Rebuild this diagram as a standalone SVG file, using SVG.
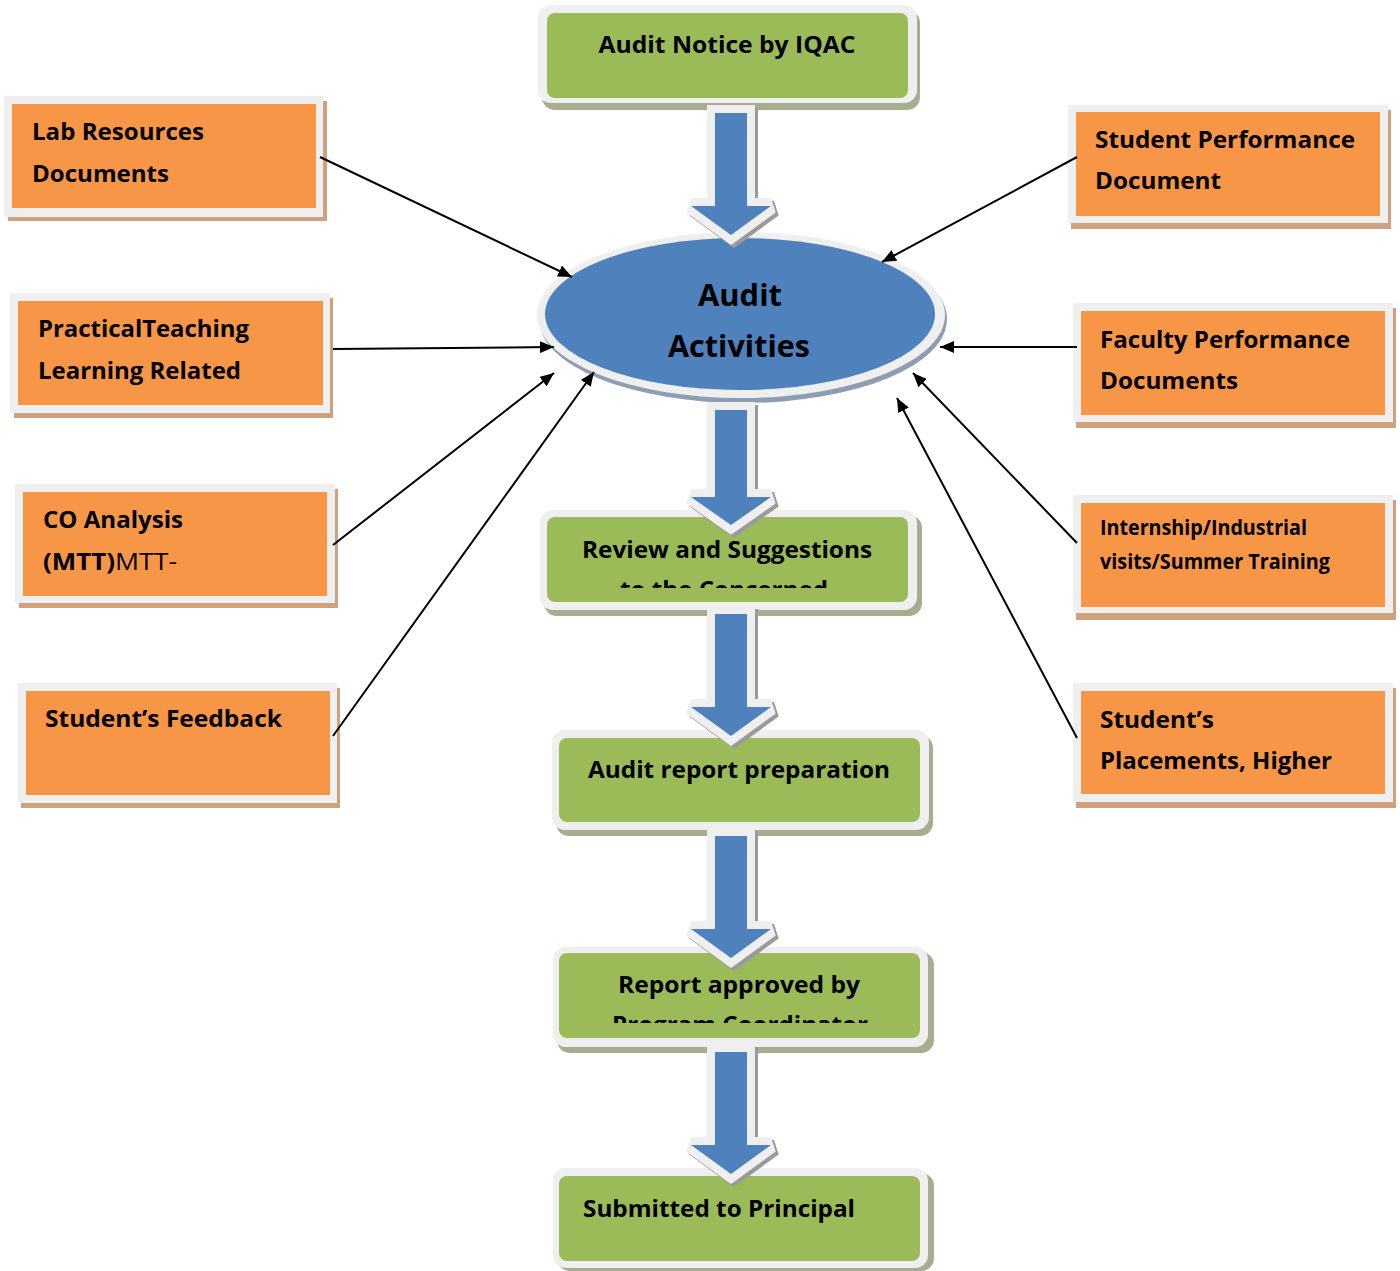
<svg xmlns="http://www.w3.org/2000/svg" width="1400" height="1271" viewBox="0 0 1400 1271">
  <defs>
    <style>
      .lbl { font-family: "Open Sans", "Liberation Sans", sans-serif; font-weight: 700; font-size: 24px; fill: #000; }
      .reg { font-weight: 400; }
      .big { font-size: 30px; }
      .sm { font-size: 22px; }
      .frame { fill: #efefef; }
      .oshadow { fill: #cfa17f; }
      .orange { fill: #f79646; }
      .gshadow { fill: #a7ad8f; }
      .green { fill: #9bbb59; }
      .conn { stroke: #000; stroke-width: 2; fill: none; marker-end: url(#ah); }
      .barrow-sh { fill: #9a9a9a; stroke: #9a9a9a; stroke-width: 16; stroke-linejoin: miter; stroke-miterlimit: 2.2; }
      .barrow { fill: #4f81bd; stroke: #efefef; stroke-width: 16; paint-order: stroke; stroke-linejoin: miter; stroke-miterlimit: 2.2; }
    </style>
    <marker id="ah" viewBox="0 0 14 12" refX="14" refY="6" markerWidth="14" markerHeight="12" orient="auto" markerUnits="userSpaceOnUse">
      <path d="M0,0 L14,6 L0,12 z" fill="#000"/>
    </marker>
    <!-- block arrows pointing down, drawn from the top centre of the shaft -->
    <path id="blk" d="M-16,0 H16 V93 H40 L0,122 L-40,93 H-16 Z"/>
    <path id="blk-short" d="M-16,0 H16 V87 H40 L0,115 L-40,87 H-16 Z"/>
    <clipPath id="clipReview"><rect x="547" y="517" width="361" height="71"/></clipPath>
    <clipPath id="clipApproved"><rect x="559" y="953" width="361" height="70"/></clipPath>
  </defs>

  <!-- green process steps -->
  <g id="audit-notice">
    <rect class="gshadow" x="542" y="10" width="378" height="100" rx="13"/>
    <rect class="frame" x="538" y="5" width="379" height="98" rx="13"/>
    <rect class="green" x="547" y="13" width="361" height="85" rx="8"/>
    <text class="lbl" x="727" y="53" text-anchor="middle" textLength="257" lengthAdjust="spacingAndGlyphs">Audit Notice by IQAC</text>
  </g>

  <g id="review">
    <rect class="gshadow" x="544" y="515" width="378" height="101" rx="13"/>
    <rect class="frame" x="540" y="510" width="377" height="100" rx="13"/>
    <rect class="green" x="547" y="517" width="361" height="85" rx="8"/>
    <g clip-path="url(#clipReview)">
      <text class="lbl" x="727" y="558" text-anchor="middle" textLength="290" lengthAdjust="spacingAndGlyphs">Review and Suggestions</text>
      <text class="lbl" x="724" y="598" text-anchor="middle" textLength="208" lengthAdjust="spacingAndGlyphs">to the Concerned</text>
    </g>
  </g>

  <g id="report-prep">
    <rect class="gshadow" x="556" y="735" width="377" height="101" rx="13"/>
    <rect class="frame" x="552" y="730" width="377" height="100" rx="13"/>
    <rect class="green" x="559" y="738" width="361" height="84" rx="8"/>
    <text class="lbl" x="739" y="778" text-anchor="middle" textLength="302" lengthAdjust="spacingAndGlyphs">Audit report preparation</text>
  </g>

  <g id="report-approved">
    <rect class="gshadow" x="557" y="952" width="377" height="101" rx="13"/>
    <rect class="frame" x="553" y="947" width="375" height="100" rx="13"/>
    <rect class="green" x="559" y="953" width="361" height="85" rx="8"/>
    <g clip-path="url(#clipApproved)">
      <text class="lbl" x="739" y="993" text-anchor="middle" textLength="242" lengthAdjust="spacingAndGlyphs">Report approved by</text>
      <text class="lbl" x="740" y="1033" text-anchor="middle" textLength="256" lengthAdjust="spacingAndGlyphs">Program Coordinator</text>
    </g>
  </g>

  <g id="submitted">
    <rect class="gshadow" x="557" y="1173" width="377" height="98" rx="13"/>
    <rect class="frame" x="553" y="1168" width="375" height="100" rx="13"/>
    <rect class="green" x="559" y="1176" width="361" height="85" rx="8"/>
    <text class="lbl" x="583" y="1217" textLength="272" lengthAdjust="spacingAndGlyphs">Submitted to Principal</text>
  </g>

  <!-- central hub -->
  <g id="audit-activities">
    <ellipse cx="743" cy="319" rx="204" ry="84" fill="#8e9db2"/>
    <ellipse cx="741" cy="315" rx="204" ry="83" class="frame"/>
    <ellipse cx="740" cy="314" rx="195" ry="76" fill="#4f81bd"/>
    <text class="lbl big" x="740" y="306" text-anchor="middle" textLength="84" lengthAdjust="spacingAndGlyphs">Audit</text>
    <text class="lbl big" x="739" y="357" text-anchor="middle" textLength="142" lengthAdjust="spacingAndGlyphs">Activities</text>
  </g>

  <!-- flow arrows between the central steps -->
  <g id="flow-arrows">
    <g transform="translate(731,113)">
      <use href="#blk" class="barrow-sh" transform="translate(3,3)"/>
      <use href="#blk" class="barrow"/>
    </g>
    <g transform="translate(731,410)">
      <use href="#blk-short" class="barrow-sh" transform="translate(3,3)"/>
      <use href="#blk-short" class="barrow"/>
    </g>
    <g transform="translate(731,614)">
      <use href="#blk" class="barrow-sh" transform="translate(3,3)"/>
      <use href="#blk" class="barrow"/>
    </g>
    <g transform="translate(731,836)">
      <use href="#blk" class="barrow-sh" transform="translate(3,3)"/>
      <use href="#blk" class="barrow"/>
    </g>
    <g transform="translate(731,1052)">
      <use href="#blk" class="barrow-sh" transform="translate(3,3)"/>
      <use href="#blk" class="barrow"/>
    </g>
  </g>

  <!-- left inputs -->
  <g id="lab-resources">
    <rect class="oshadow" x="8" y="101" width="319" height="120"/>
    <rect class="frame" x="4" y="96" width="319" height="121"/>
    <rect class="orange" x="12" y="104" width="304" height="104"/>
    <text class="lbl" x="32" y="140" textLength="172" lengthAdjust="spacingAndGlyphs">Lab Resources</text>
    <text class="lbl" x="32" y="182" textLength="137" lengthAdjust="spacingAndGlyphs">Documents</text>
  </g>

  <g id="practical-teaching">
    <rect class="oshadow" x="14" y="298" width="319" height="120"/>
    <rect class="frame" x="10" y="293" width="320" height="120"/>
    <rect class="orange" x="18" y="301" width="305" height="104"/>
    <text class="lbl" x="38" y="337" textLength="211" lengthAdjust="spacingAndGlyphs">PracticalTeaching</text>
    <text class="lbl" x="38" y="379" textLength="203" lengthAdjust="spacingAndGlyphs">Learning Related</text>
  </g>

  <g id="co-analysis">
    <rect class="oshadow" x="19" y="489" width="319" height="119"/>
    <rect class="frame" x="15" y="484" width="320" height="119"/>
    <rect class="orange" x="23" y="492" width="304" height="104"/>
    <text class="lbl" x="43" y="528" textLength="140" lengthAdjust="spacingAndGlyphs">CO Analysis</text>
    <text class="lbl" x="43" y="570" textLength="72" lengthAdjust="spacingAndGlyphs">(MTT)</text>
    <text class="lbl reg" x="115" y="570" textLength="62" lengthAdjust="spacingAndGlyphs">MTT-</text>
  </g>

  <g id="student-feedback">
    <rect class="oshadow" x="21" y="688" width="319" height="120"/>
    <rect class="frame" x="18" y="683" width="319" height="120"/>
    <rect class="orange" x="26" y="691" width="304" height="104"/>
    <text class="lbl" x="45" y="727" textLength="237" lengthAdjust="spacingAndGlyphs">Student’s Feedback</text>
  </g>

  <!-- right inputs -->
  <g id="student-performance">
    <rect class="oshadow" x="1071" y="110" width="320" height="119"/>
    <rect class="frame" x="1068" y="105" width="320" height="118"/>
    <rect class="orange" x="1076" y="112" width="304" height="104"/>
    <text class="lbl" x="1095" y="148" textLength="260" lengthAdjust="spacingAndGlyphs">Student Performance</text>
    <text class="lbl" x="1095" y="189" textLength="126" lengthAdjust="spacingAndGlyphs">Document</text>
  </g>

  <g id="faculty-performance">
    <rect class="oshadow" x="1076" y="308" width="320" height="120"/>
    <rect class="frame" x="1073" y="303" width="320" height="119"/>
    <rect class="orange" x="1081" y="311" width="304" height="104"/>
    <text class="lbl" x="1100" y="348" textLength="250" lengthAdjust="spacingAndGlyphs">Faculty Performance</text>
    <text class="lbl" x="1100" y="389" textLength="138" lengthAdjust="spacingAndGlyphs">Documents</text>
  </g>

  <g id="internship">
    <rect class="oshadow" x="1076" y="500" width="320" height="120"/>
    <rect class="frame" x="1073" y="495" width="320" height="118"/>
    <rect class="orange" x="1081" y="503" width="304" height="104"/>
    <text class="lbl sm" x="1100" y="535" textLength="207" lengthAdjust="spacingAndGlyphs">Internship/Industrial</text>
    <text class="lbl sm" x="1100" y="569" textLength="230" lengthAdjust="spacingAndGlyphs">visits/Summer Training</text>
  </g>

  <g id="placements">
    <rect class="oshadow" x="1076" y="688" width="320" height="120"/>
    <rect class="frame" x="1073" y="683" width="320" height="119"/>
    <rect class="orange" x="1081" y="691" width="304" height="103"/>
    <text class="lbl" x="1100" y="728" textLength="114" lengthAdjust="spacingAndGlyphs">Student’s</text>
    <text class="lbl" x="1100" y="769" textLength="232" lengthAdjust="spacingAndGlyphs">Placements, Higher</text>
  </g>

  <!-- input connectors -->
  <g id="connectors">
    <line class="conn" x1="320" y1="157" x2="572" y2="277"/>
    <line class="conn" x1="333" y1="349" x2="554" y2="347"/>
    <line class="conn" x1="333" y1="545" x2="554" y2="373"/>
    <line class="conn" x1="333" y1="736" x2="594" y2="372"/>
    <line class="conn" x1="1077" y1="157" x2="882" y2="262"/>
    <line class="conn" x1="1077" y1="347" x2="940" y2="347"/>
    <line class="conn" x1="1077" y1="543" x2="913" y2="373"/>
    <line class="conn" x1="1077" y1="738" x2="897" y2="398"/>
  </g>
</svg>
